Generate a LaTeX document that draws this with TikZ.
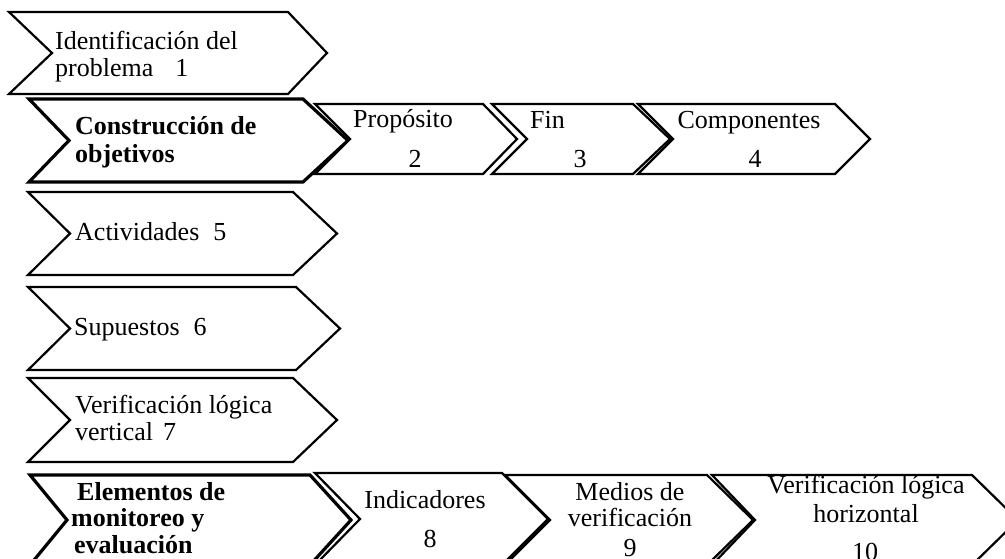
\documentclass[tikz,border=0pt]{standalone}
\usepackage{fontspec}
\setmainfont{Liberation Serif}
% #1 style, #2 left x, #3 right x (top-right corner), #4 top y, #5 bottom y, #6 point depth, #7 notch depth
\newcommand\chevshape[7]{%
  \draw[#1] (#2,#4) -- (#3,#4) -- ({#3+#6},{(#4+#5)/2}) -- (#3,#5) -- (#2,#5) -- ({#2+#7},{(#4+#5)/2}) -- cycle;}
\begin{document}
\begin{tikzpicture}[x=1pt,y=-1pt,
  chev/.style={draw=black, fill=white, line width=2.2pt, line join=miter},
  chevbold/.style={chev, line width=3.2pt},
  lt/.style={inner sep=0pt, anchor=base west, font=\fontsize{26}{27}\selectfont},
  ct/.style={inner sep=0pt, anchor=base, font=\fontsize{26}{27}\selectfont},
  ltb/.style={lt, font=\fontsize{26}{27}\selectfont\bfseries}]
\useasboundingbox (0,0) rectangle (1005,558);
\fill[white] (0,0) rectangle (1005,558);
\clip (0,0) rectangle (1005,558);

% left column and rows of chevrons
\chevshape{chev}{9}{288}{12}{94}{39}{43}
\chevshape{chevbold}{29}{303}{99}{182}{45}{40}
\chevshape{chev}{315}{483}{104}{174}{34}{35}
\chevshape{chev}{492}{633}{104}{174}{37}{35}
\chevshape{chev}{638}{835}{104}{174}{35}{35}
\chevshape{chev}{28}{293}{192}{275}{44}{42}
\chevshape{chev}{28}{296}{287}{370}{44}{42}
\chevshape{chev}{28}{293}{378}{462}{44}{42}
\chevshape{chevbold}{30}{310}{475}{565}{41}{37}
\chevshape{chev}{315}{502}{473}{565}{46}{45}
\chevshape{chev}{505}{707}{475}{565}{46}{45}
\chevshape{chev}{712}{972}{475}{565}{46}{43}

% texts
\node[lt] (t1a) at (55,49) {Identificación del};
\node[lt] (t1b) at (55,76) {problema\hspace{22pt}1};
\node[ltb] (t2a) at (75,134) {Construcción de};
\node[ltb] (t2b) at (75,162) {objetivos};
\node[ct] (t2p) at (403,127) {Propósito};
\node[ct] (t2pn) at (415,167) {2};
\node[lt] (t2f) at (530,128) {Fin};
\node[ct] (t2fn) at (580,167) {3};
\node[ct] (t2c) at (749,128) {Componentes};
\node[ct] (t2cn) at (755,167) {4};
\node[lt] (t3) at (75,240) {Actividades\hspace{14pt}5};
\node[lt] (t4) at (74,335) {Supuestos\hspace{14pt}6};
\node[lt] (t5a) at (75,413) {Verificación lógica};
\node[lt] (t5b) at (75,440) {vertical\hspace{10pt}7};
\node[ltb] (t6a) at (77,500) {Elementos de};
\node[ltb] (t6b) at (71,526) {monitoreo y};
\node[ltb] (t6c) at (74,553) {evaluación};
\node[ct] (t6i) at (425,508) {Indicadores};
\node[ct] (t6in) at (430,547) {8};
\node[ct] (t6m) at (630,500) {Medios de};
\node[ct] (t6m2) at (630,526) {verificación};
\node[ct] (t6mn) at (630,556) {9};
\node[ct] (t6v) at (866,493) {Verificación lógica};
\node[ct] (t6v2) at (866,522) {horizontal};
\node[ct] (t6vn) at (865,560) {10};
\end{tikzpicture}
\end{document}
